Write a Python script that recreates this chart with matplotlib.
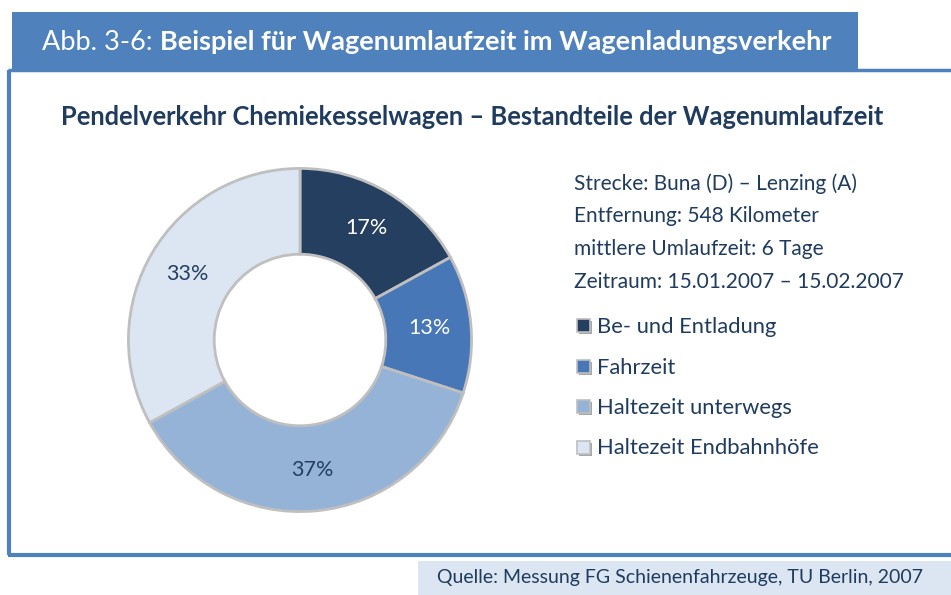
import matplotlib
matplotlib.use("Agg")
import matplotlib.pyplot as plt
from matplotlib.patches import Rectangle

plt.rcParams['font.family'] = ['Lato', 'DejaVu Sans']

# Data
categories = ["Be- und Entladung", "Fahrzeit", "Haltezeit unterwegs", "Haltezeit Endbahnhöfe"]
shares = [17, 13, 37, 33]
colors = ["#243F60", "#4777B6", "#95B3D7", "#DCE6F2"]
label_colors = ["white", "white", "#243F60", "#243F60"]
info_lines = [
    "Strecke: Buna (D) – Lenzing (A)",
    "Entfernung: 548 Kilometer",
    "mittlere Umlaufzeit: 6 Tage",
    "Zeitraum: 15.01.2007 – 15.02.2007",
]
fig_label = "Abb. 3-6: "
fig_title = "Beispiel für Wagenumlaufzeit im Wagenladungsverkehr"
chart_title = "Pendelverkehr Chemiekesselwagen – Bestandteile der Wagenumlaufzeit"
source = "Quelle: Messung FG Schienenfahrzeuge, TU Berlin, 2007"

W, H = 951, 595
navy = "#1F3B5E"
blue = "#4F81BD"

fig = plt.figure(figsize=(W / 100, H / 100), dpi=100)
bg = fig.add_axes([0, 0, 1, 1])
bg.set_xlim(0, W)
bg.set_ylim(H, 0)
bg.axis("off")

# Header banner
bg.add_patch(Rectangle((12, 12), 846, 58, facecolor=blue, edgecolor="none"))
t1 = bg.text(42, 42, fig_label, color="white", fontsize=19.5, va="center", ha="left")
fig.canvas.draw()
bb = t1.get_window_extent()
x2 = bb.x1
bg.text(x2, 42, fig_title, color="white", fontsize=19.5, fontweight="bold",
        va="center", ha="left")

# Frame around the chart (open at the right)
bg.plot([8, W], [70, 70], color=blue, lw=2.5, solid_capstyle="butt")
bg.plot([9, 9], [70, 555], color=blue, lw=3, solid_capstyle="butt")
bg.plot([8, W], [555, 555], color=blue, lw=3, solid_capstyle="butt")

# Source box
bg.add_patch(Rectangle((418, 561), W - 418, 34, facecolor="#DCE6F2", edgecolor="none"))
bg.text(680, 578, source, color=navy, fontsize=14, va="center", ha="center")

# Chart title
bg.text(472, 117, chart_title, color=navy, fontsize=18.4, fontweight="bold",
        va="center", ha="center")

# Info text
for i, line in enumerate(info_lines):
    bg.text(574, 184 + i * 32.5, line, color=navy, fontsize=15, va="center", ha="left")

# Legend
for i, (cat, col) in enumerate(zip(categories, colors)):
    y = 327 + i * 40.5
    bg.add_patch(Rectangle((579, y - 6), 13, 13, facecolor="#A6A6A6", edgecolor="none"))
    bg.add_patch(Rectangle((577, y - 8), 13, 13, facecolor=col, edgecolor="#BFBFBF", lw=1.2))
    bg.text(597, y, cat, color=navy, fontsize=15.8, va="center", ha="left")

# Donut
cx, cy, r = 300, 340, 175
pie_ax = fig.add_axes([(cx - r) / W, (H - cy - r) / H, 2 * r / W, 2 * r / H])
wedges, texts = pie_ax.pie(
    shares, colors=colors, startangle=90, counterclock=False,
    wedgeprops=dict(width=0.5, edgecolor="#BFBFBF", linewidth=2),
    labels=[f"{s}%" for s in shares], labeldistance=0.76,
    textprops=dict(fontsize=15.5),
)
for t, c in zip(texts, label_colors):
    t.set_color(c)
    t.set_ha("center")
    t.set_va("center")
pie_ax.set_xlim(-1.02, 1.02)
pie_ax.set_ylim(-1.02, 1.02)
pie_ax.set_aspect("equal")

fig.savefig("out.png", dpi=100)
